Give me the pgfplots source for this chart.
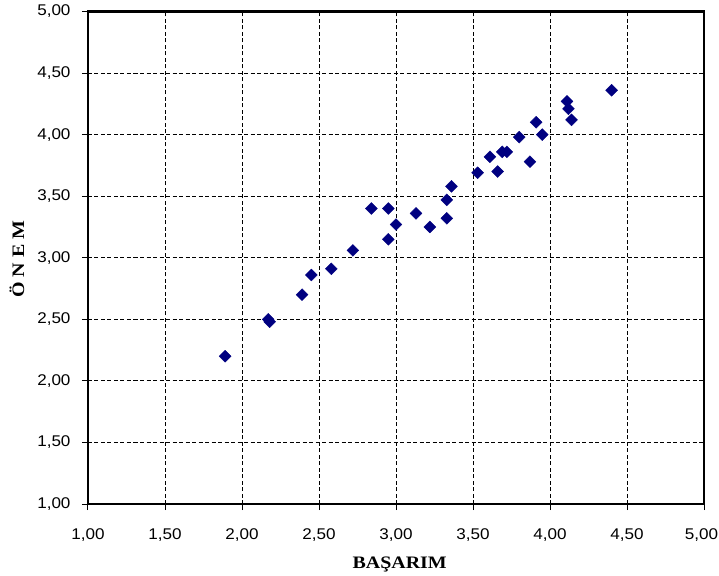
\documentclass[border=0pt]{standalone}
\usepackage{fontspec}
\setmainfont{Liberation Sans}[FakeStretch=1.1]
\newfontfamily\serifb{Liberation Serif}[FakeStretch=1.14]
\usepackage{pgfplots}
\pgfplotsset{compat=1.18}
\definecolor{navyd}{RGB}{0,0,128}
\begin{document}
\begin{tikzpicture}
\useasboundingbox (-88pt,-71pt) rectangle (631pt,504pt);
\begin{axis}[
  at={(0,0)}, anchor=south west,
  scale only axis, width=616pt, height=492.5pt,
  xmin=1, xmax=5, ymin=1, ymax=5,
  xtick={1,1.5,2,2.5,3,3.5,4,4.5,5},
  xticklabels={{1,00},{1,50},{2,00},{2,50},{3,00},{3,50},{4,00},{4,50},{\hspace*{-5pt}5,00}},
  ytick={1,1.5,2,2.5,3,3.5,4,4.5,5},
  grid=major,
  grid style={black, line width=0.8pt, dash pattern=on 4pt off 2.5pt},
  axis line style={black, line width=2.2pt},
  tick style={black, line width=1pt},
  tick align=outside, major tick length=6pt, tick pos=left,
  /pgf/number format/.cd, fixed, fixed zerofill, precision=2, use comma, assume math mode=true,
  /pgfplots/.cd,
  ticklabel style={font=\fontsize{15.5pt}{18pt}\selectfont},
  xticklabel style={yshift=-15pt},
  yticklabel style={xshift=-8pt},
  xlabel={\serifb\bfseries BAŞARIM},
  ylabel={\serifb\bfseries Ö N E M},
  xlabel style={at={(axis description cs:0.506,-0.13)}, anchor=base, font=\fontsize{17.5pt}{20pt}\selectfont},
  ylabel style={at={(axis description cs:-0.1153,0.497)}, anchor=center, font=\fontsize{17.5pt}{20pt}\selectfont},
]
\addplot[only marks, mark=square*, mark size=4.2pt, mark options={rotate=45, fill=navyd, draw=navyd}] coordinates {
(1.89,2.20)
(2.17,2.50)
(2.18,2.48)
(2.39,2.70)
(2.45,2.86)
(2.58,2.91)
(2.72,3.06)
(2.84,3.40)
(2.95,3.40)
(2.95,3.15)
(3.00,3.27)
(3.13,3.36)
(3.22,3.25)
(3.33,3.47)
(3.33,3.32)
(3.36,3.58)
(3.53,3.69)
(3.61,3.82)
(3.66,3.70)
(3.69,3.86)
(3.72,3.86)
(3.80,3.98)
(3.87,3.78)
(3.91,4.10)
(3.95,4.00)
(4.11,4.27)
(4.12,4.21)
(4.14,4.12)
(4.40,4.36)
};
\end{axis}
\end{tikzpicture}
\end{document}
